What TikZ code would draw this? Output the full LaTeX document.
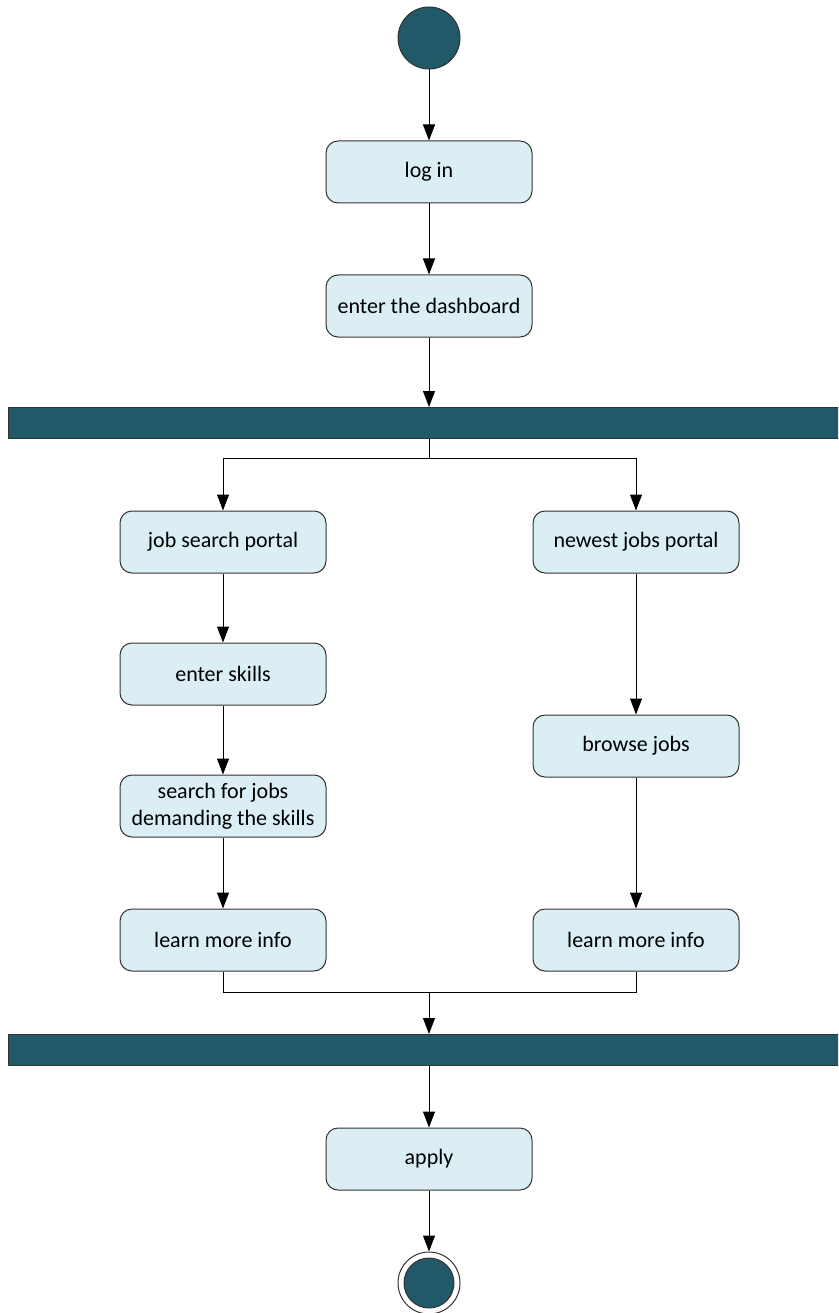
\documentclass[tikz,border=0pt]{standalone}
\usepackage{fontspec}
\setmainfont{Carlito}
\usetikzlibrary{arrows.meta}
\definecolor{barteal}{HTML}{215968}
\definecolor{boxblue}{HTML}{DAEEF3}

\begin{document}
\begin{tikzpicture}[x=1pt,y=-1pt,>={Triangle[length=16pt,width=12pt]},
  action/.style={draw=black!80,line width=1pt,fill=boxblue,rounded corners=12pt,minimum width=206pt,minimum height=62pt,align=center,font=\fontsize{22}{27}\selectfont},
  bar/.style={draw=black!80,line width=1pt,fill=barteal,minimum width=842pt,minimum height=31pt,inner sep=0pt},
  init/.style={circle,draw=black!80,line width=1pt,fill=barteal,minimum size=62pt,inner sep=0pt},
  final/.style={circle,draw=black!80,line width=1pt,fill=white,minimum size=62pt,inner sep=0pt,
    path picture={\fill[barteal,draw=black!80,line width=1pt] (path picture bounding box.center) circle (25pt);}},
  flow/.style={line width=1pt}]
\useasboundingbox (0,0) rectangle (838,1313);
\clip (0,0) rectangle (838,1313);
\node[init] (start) at (429,38) {};
\node[action] (login) at (429,172) {log in};
\node[action] (dash) at (429,306) {enter the dashboard};
\node[bar] (fork) at (429,423) {};
\coordinate (split) at (429,458);
\node[action] (jsp) at (223,542) {job search portal};
\node[action] (skills) at (223,674) {enter skills};
\node[action] (search) at (223,806) {search for jobs\\demanding the skills};
\node[action] (info1) at (223,940) {learn more info};
\node[action] (njp) at (636,542) {newest jobs portal};
\node[action] (browse) at (636,746) {browse jobs};
\node[action] (info2) at (636,940) {learn more info};
\coordinate (merge) at (429,992);
\node[bar] (join) at (429,1050) {};
\node[action] (apply) at (429,1159) {apply};
\node[final] (end) at (429,1283) {};
\draw[flow,->] (start) -- (login);
\draw[flow,->] (login) -- (dash);
\draw[flow,->] (dash) -- (fork);
\draw[flow] (fork) -- (split);
\draw[flow,->] (split) -| (jsp);
\draw[flow,->] (split) -| (njp);
\draw[flow,->] (jsp) -- (skills);
\draw[flow,->] (skills) -- (search);
\draw[flow,->] (search) -- (info1);
\draw[flow,->] (njp) -- (browse);
\draw[flow,->] (browse) -- (info2);
\draw[flow] (info1) |- (merge);
\draw[flow] (info2) |- (merge);
\draw[flow,->] (merge) -- (join);
\draw[flow,->] (join) -- (apply);
\draw[flow,->] (apply) -- (end);
\end{tikzpicture}
\end{document}
